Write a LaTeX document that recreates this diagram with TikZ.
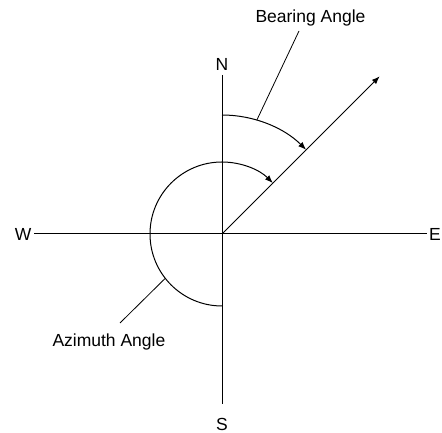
\documentclass[tikz,border=0pt]{standalone}
\usepackage{fontspec}
\setmainfont{Liberation Sans}
\usetikzlibrary{positioning,arrows.meta}

\begin{document}
\begin{tikzpicture}[x=1pt, y=1pt, line width=1pt, >={Latex[length=8pt,width=6pt]},
  lbl/.style={font=\fontsize{17.5}{20}\selectfont, inner sep=0pt}]
\useasboundingbox (0,0) rectangle (442,433);

% Centre of the compass
\coordinate (O) at (222,199);

% Axes
\coordinate (nEnd) at (222,358);
\coordinate (sEnd) at (222,29);
\coordinate (wEnd) at (34,199);
\coordinate (eEnd) at (427,199);
\draw (nEnd) -- (sEnd);
\draw (wEnd) -- (eEnd);

% Compass points
\node[lbl, above=4pt of nEnd] (N) {N};
\node[lbl, below=14pt of sEnd] (S) {S};
\node[lbl, left=2pt of wEnd] (W) {W};
\node[lbl, right=1.5pt of eEnd] (E) {E};

% Direction at 45 degrees
\draw[->] (O) -- ++(45:223) coordinate (tip);

% Bearing angle arc
\draw[->] (O) ++(90:119) arc[start angle=90, end angle=45, radius=119];

% Azimuth angle arc
\draw[->] (O) ++(270:72) arc[start angle=270, end angle=45, radius=72];

% Labels and leaders
\node[lbl, anchor=base west] (bear) at (255,410) {Bearing Angle};
\node[lbl, anchor=base west] (azim) at (52,86) {Azimuth Angle};
\path (O) ++(73:119) coordinate (bearPt);
\path (O) ++(218:72) coordinate (azimPt);
\coordinate (bearEnd) at (299,402);
\coordinate (azimEnd) at (120,110);
\draw[line width=0.8pt] (bearPt) -- (bearEnd);
\draw[line width=0.8pt] (azimPt) -- (azimEnd);

\end{tikzpicture}
\end{document}
